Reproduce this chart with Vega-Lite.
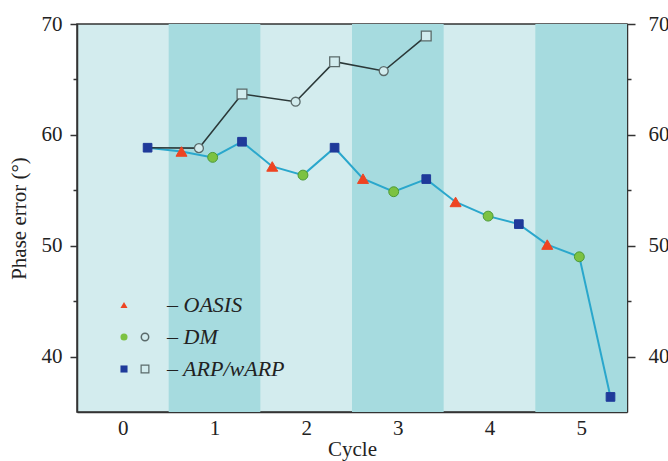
{
  "$schema": "https://vega.github.io/schema/vega-lite/v6.json",
  "width": 550,
  "height": 388,
  "autosize": {"type": "none"},
  "padding": {"left": 77, "top": 24, "right": 41, "bottom": 49},
  "background": "white",
  "config": {
    "view": {"fill": "#d3ecee", "stroke": "#333333", "strokeWidth": 1.5},
    "font": "Liberation Serif",
    "axis": {
      "labelFont": "Liberation Serif",
      "titleFont": "Liberation Serif",
      "labelFontSize": 21,
      "titleFontSize": 21,
      "titleFontWeight": "normal",
      "labelColor": "#222222",
      "titleColor": "#222222",
      "domainColor": "#333333",
      "tickColor": "#333333",
      "domainWidth": 1.5,
      "tickWidth": 1.5,
      "grid": false
    }
  },
  "datasets": {
    "bands": [
      {"from": 0.5, "to": 1.5},
      {"from": 2.5, "to": 3.5},
      {"from": 4.5, "to": 5.5}
    ],
    "points": [
      {"Step": 0, "Track": "A", "Method": "ARP/wARP", "Cycle": 0.27, "Error": 58.84},
      {"Step": 1, "Track": "A", "Method": "OASIS", "Cycle": 0.64, "Error": 58.5},
      {"Step": 2, "Track": "A", "Method": "DM", "Cycle": 0.98, "Error": 57.97},
      {"Step": 3, "Track": "A", "Method": "ARP/wARP", "Cycle": 1.3, "Error": 59.38},
      {"Step": 4, "Track": "A", "Method": "OASIS", "Cycle": 1.63, "Error": 57.15},
      {"Step": 5, "Track": "A", "Method": "DM", "Cycle": 1.965, "Error": 56.37},
      {"Step": 6, "Track": "A", "Method": "ARP/wARP", "Cycle": 2.31, "Error": 58.84},
      {"Step": 7, "Track": "A", "Method": "OASIS", "Cycle": 2.62, "Error": 56.05},
      {"Step": 8, "Track": "A", "Method": "DM", "Cycle": 2.955, "Error": 54.87},
      {"Step": 9, "Track": "A", "Method": "ARP/wARP", "Cycle": 3.31, "Error": 56.01},
      {"Step": 10, "Track": "A", "Method": "OASIS", "Cycle": 3.63, "Error": 53.95},
      {"Step": 11, "Track": "A", "Method": "DM", "Cycle": 3.985, "Error": 52.67},
      {"Step": 12, "Track": "A", "Method": "ARP/wARP", "Cycle": 4.32, "Error": 51.95},
      {"Step": 13, "Track": "A", "Method": "OASIS", "Cycle": 4.63, "Error": 50.1},
      {"Step": 14, "Track": "A", "Method": "DM", "Cycle": 4.98, "Error": 49.0},
      {"Step": 15, "Track": "A", "Method": "ARP/wARP", "Cycle": 5.32, "Error": 36.36},
      {"Step": 1, "Track": "B", "Method": "DM", "Cycle": 0.83, "Error": 58.8},
      {"Step": 2, "Track": "B", "Method": "ARP/wARP", "Cycle": 1.3, "Error": 63.68},
      {"Step": 3, "Track": "B", "Method": "DM", "Cycle": 1.885, "Error": 62.99},
      {"Step": 4, "Track": "B", "Method": "ARP/wARP", "Cycle": 2.31, "Error": 66.6},
      {"Step": 5, "Track": "B", "Method": "DM", "Cycle": 2.846, "Error": 65.76},
      {"Step": 6, "Track": "B", "Method": "ARP/wARP", "Cycle": 3.31, "Error": 68.92}
    ]
  },
  "resolve": {"axis": {"y": "independent"}},
  "layer": [
    {
      "data": {"name": "bands"},
      "mark": {"type": "rect", "color": "#a6dbdf"},
      "encoding": {
        "x": {"field": "from", "type": "quantitative", "title": "Cycle",
              "scale": {"domain": [-0.5, 5.5], "nice": false, "zero": false},
              "axis": {"values": [0, 1, 2, 3, 4, 5], "format": "d", "ticks": false, "labelPadding": 5, "titlePadding": 0}},
        "x2": {"field": "to"}
      }
    },
    {
      "data": {"name": "points"},
      "transform": [{"filter": "datum.Track === 'A'"}],
      "mark": {"type": "line", "color": "#2aa7cc", "strokeWidth": 2},
      "encoding": {
        "x": {"field": "Cycle", "type": "quantitative", "title": "Cycle",
              "scale": {"domain": [-0.5, 5.5], "nice": false, "zero": false}},
        "y": {"field": "Error", "type": "quantitative", "title": "Phase error (°)",
              "scale": {"domain": [35, 70], "nice": false, "zero": false},
              "axis": {"orient": "left", "values": [40, 45, 50, 55, 60, 65, 70],
                       "labelExpr": "datum.value % 10 === 0 ? datum.label : ''",
                       "tickSize": {"condition": {"test": "datum.value % 10 === 0", "value": 7}, "value": 4},
                       "labelPadding": 8, "titlePadding": 12}}
      }
    },
    {
      "data": {"name": "points"},
      "transform": [{"filter": "datum.Track === 'B' || datum.Step === 0"}],
      "mark": {"type": "line", "color": "#2b3838", "strokeWidth": 1.6},
      "encoding": {
        "x": {"field": "Cycle", "type": "quantitative", "title": "Cycle",
              "scale": {"domain": [-0.5, 5.5], "nice": false, "zero": false}},
        "y": {"field": "Error", "type": "quantitative", "title": null,
              "scale": {"domain": [35, 70], "nice": false, "zero": false},
              "axis": {"orient": "right", "values": [40, 45, 50, 55, 60, 65, 70],
                       "labelExpr": "datum.value % 10 === 0 ? datum.label : ''",
                       "tickSize": {"condition": {"test": "datum.value % 10 === 0", "value": 8}, "value": 4},
                       "labelPadding": 13}}
      }
    },
    {
      "data": {"name": "points"},
      "transform": [{"filter": "datum.Track === 'B' && datum.Method === 'DM'"}],
      "mark": {"type": "point", "shape": "circle", "filled": true, "fill": "#d2ecee", "stroke": "#5a6a6a", "strokeWidth": 1.3, "size": 80},
      "encoding": {
        "x": {"field": "Cycle", "type": "quantitative", "title": "Cycle",
              "scale": {"domain": [-0.5, 5.5], "nice": false, "zero": false}},
        "y": {"field": "Error", "type": "quantitative", "axis": null,
              "scale": {"domain": [35, 70], "nice": false, "zero": false}},
        "opacity": {"field": "Method", "type": "ordinal",
                    "scale": {"domain": ["DM"], "range": [1]},
                    "legend": {"orient": "none", "legendX": 63, "legendY": 308, "padding": 0, "title": null,
                               "labelExpr": "''", "labelOffset": 0, "symbolSize": 55}}
      }
    },
    {
      "data": {"name": "points"},
      "transform": [{"filter": "datum.Track === 'B' && datum.Method === 'ARP/wARP'"}],
      "mark": {"type": "point", "shape": "square", "filled": false, "fill": "#d2ecee", "strokeWidth": 1.3, "size": 95, "opacity": 1},
      "encoding": {
        "x": {"field": "Cycle", "type": "quantitative", "title": "Cycle",
              "scale": {"domain": [-0.5, 5.5], "nice": false, "zero": false}},
        "y": {"field": "Error", "type": "quantitative", "axis": null,
              "scale": {"domain": [35, 70], "nice": false, "zero": false}},
        "color": {"field": "Method", "type": "nominal",
                  "scale": {"domain": ["ARP/wARP"], "range": ["#5a6a6a"]},
                  "legend": {"orient": "none", "legendX": 63, "legendY": 340, "padding": 0, "title": null,
                             "labelExpr": "''", "labelOffset": 0, "symbolSize": 60, "symbolFillColor": "#d2ecee", "symbolStrokeWidth": 1.2}}
      }
    },
    {
      "data": {"name": "points"},
      "transform": [{"filter": "datum.Track === 'A'"}],
      "mark": {"type": "point", "filled": true, "strokeWidth": 1, "opacity": 1},
      "encoding": {
        "x": {"field": "Cycle", "type": "quantitative", "title": "Cycle",
              "scale": {"domain": [-0.5, 5.5], "nice": false, "zero": false}},
        "y": {"field": "Error", "type": "quantitative", "axis": null,
              "scale": {"domain": [35, 70], "nice": false, "zero": false}},
        "fill": {"field": "Method", "type": "nominal",
                 "scale": {"domain": ["OASIS", "DM", "ARP/wARP"], "range": ["#ee4422", "#7cc242", "#1f3a9a"]},
                 "legend": {"orient": "none", "legendX": 36, "legendY": 270, "padding": 0, "title": null,
                            "symbolSize": 50, "symbolStrokeWidth": 0, "symbolOpacity": 1,
                            "labelFont": "Liberation Serif", "labelFontStyle": "italic", "labelFontSize": 22, "labelColor": "#222222",
                            "labelExpr": "'– ' + datum.label", "rowPadding": 10, "labelOffset": 32}},
        "stroke": {"field": "Method", "type": "nominal",
                   "scale": {"domain": ["OASIS", "DM", "ARP/wARP"], "range": ["#ee4422", "#4c9a36", "#1f3a9a"]},
                   "legend": {"orient": "none", "legendX": 36, "legendY": 270, "padding": 0, "title": null,
                            "symbolSize": 50, "symbolStrokeWidth": 0, "symbolOpacity": 1,
                            "labelFont": "Liberation Serif", "labelFontStyle": "italic", "labelFontSize": 22, "labelColor": "#222222",
                            "labelExpr": "'– ' + datum.label", "rowPadding": 10, "labelOffset": 32}},
        "shape": {"field": "Method", "type": "nominal",
                  "scale": {"domain": ["OASIS", "DM", "ARP/wARP"], "range": ["triangle-up", "circle", "square"]},
                  "legend": {"orient": "none", "legendX": 36, "legendY": 270, "padding": 0, "title": null,
                            "symbolSize": 50, "symbolStrokeWidth": 0, "symbolOpacity": 1,
                            "labelFont": "Liberation Serif", "labelFontStyle": "italic", "labelFontSize": 22, "labelColor": "#222222",
                            "labelExpr": "'– ' + datum.label", "rowPadding": 10, "labelOffset": 32}},
        "size": {"field": "Method", "type": "nominal", "scale": {"domain": ["ARP/wARP", "DM", "OASIS"], "range": [75, 121, 120]}, "legend": null}
      }
    }
  ]
}
